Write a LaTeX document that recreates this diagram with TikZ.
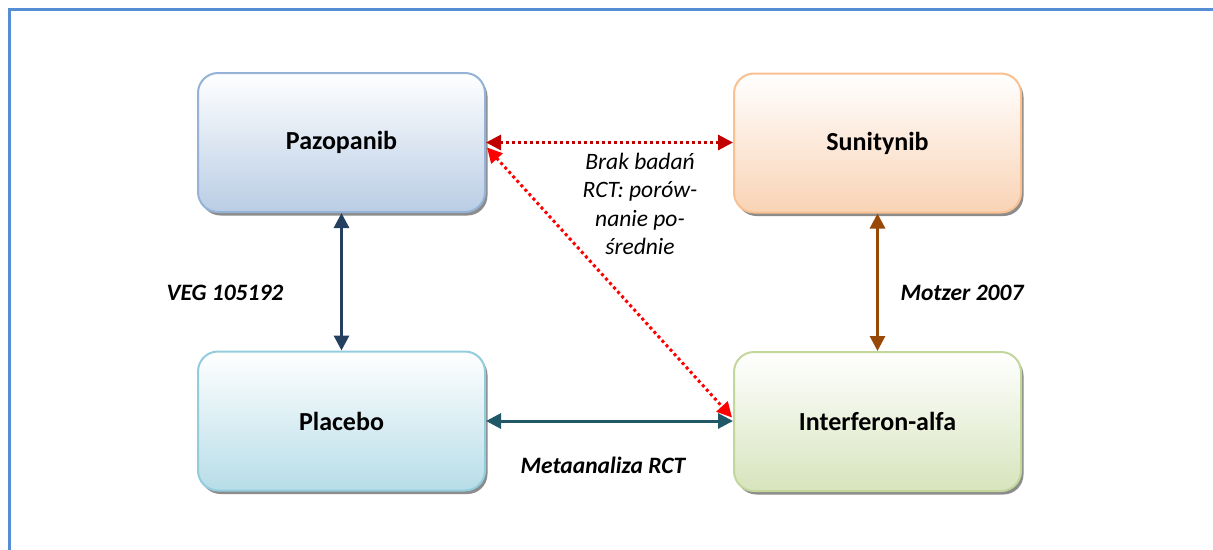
\documentclass[tikz,border=0pt]{standalone}
\usepackage{fontspec}
\setmainfont{Carlito}
\usetikzlibrary{arrows.meta,shadows,calc}
\definecolor{frameblue}{HTML}{558ED5}
\definecolor{pazB}{HTML}{95B3D7}\definecolor{pazF}{HTML}{B9CDE5}
\definecolor{sunB}{HTML}{FAC090}\definecolor{sunF}{HTML}{F9D3B5}
\definecolor{plaB}{HTML}{93CDDD}\definecolor{plaF}{HTML}{B7DDE8}
\definecolor{ifnB}{HTML}{C3D69B}\definecolor{ifnF}{HTML}{D7E4BD}
\definecolor{navy}{HTML}{243F60}
\definecolor{brownarr}{HTML}{984807}
\definecolor{tealarr}{HTML}{215868}
\definecolor{darkred}{HTML}{C00000}
\tikzset{
  drug/.style={rounded corners=20pt, minimum width=287pt, minimum height=139pt,
    line width=2pt, font=\fontsize{26}{30}\selectfont\bfseries,
    drop shadow={shadow xshift=2.5pt, shadow yshift=-3.5pt, fill=black!45, opacity=1}},
  solidarr/.style={line width=3pt, {Triangle[length=15pt,width=15pt]}-{Triangle[length=15pt,width=15pt]}},
  dotarr/.style={line width=3pt, dash pattern=on 3pt off 3pt, {Triangle[length=15pt,width=15pt]}-{Triangle[length=15pt,width=15pt]}},
  lbl/.style={font=\fontsize{23.5}{28}\selectfont\bfseries\itshape},
}
\begin{document}
\begin{tikzpicture}[x=1pt,y=-1pt]
\useasboundingbox (0,0) rectangle (1213,549);
\begin{scope}
\clip (0,0) rectangle (1213,549);
\draw[frameblue, line width=3pt] (9.5,560) -- (9.5,9.5) -- (1225,9.5);
\end{scope}
\node[drug, draw=pazB, top color=white, bottom color=pazF] (paz) at (341.5,142.5) {Pazopanib};
\node[drug, draw=sunB, top color=white, bottom color=sunF] (sun) at (877.5,143) {Sunitynib};
\node[drug, draw=plaB, top color=white, bottom color=plaF] (pla) at (341.5,421) {Placebo};
\node[drug, draw=ifnB, top color=white, bottom color=ifnF] (ifn) at (877.5,421.5) {Interferon-alfa};
\draw[solidarr, navy] (paz) -- (pla);
\draw[solidarr, brownarr] (sun) -- (ifn);
\draw[solidarr, tealarr] (pla.east) -- (pla.east -| ifn.west);
\draw[dotarr, darkred] (paz.east) -- (paz.east -| sun.west);
\draw[dotarr, red] ($(paz.east)+(1,5)$) -- ($(ifn.west)+(-1,-4)$);
\node[lbl] (l1) at (225,293) {VEG 105192};
\node[lbl] (l2) at (962,293) {Motzer 2007};
\node[lbl] (l3) at (603,465) {Metaanaliza RCT};
\node[font=\fontsize{23.5}{28.5}\selectfont\itshape, align=center] (l4) at (640,204) {Brak badań\\RCT: porów-\\nanie po-\\średnie};
\end{tikzpicture}
\end{document}
